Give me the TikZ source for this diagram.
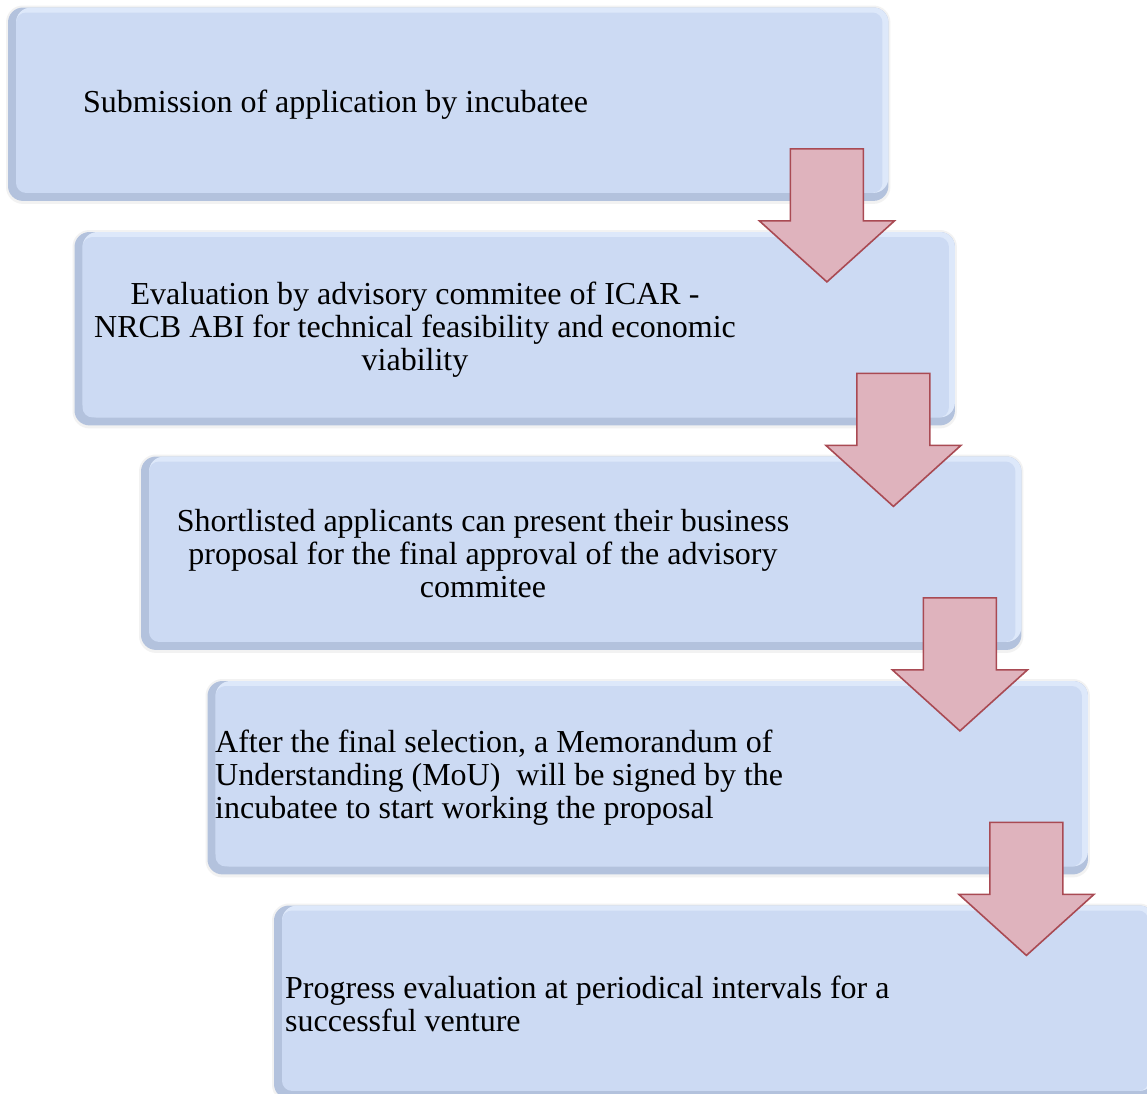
\documentclass[tikz,border=0pt]{standalone}
\usepackage{fontspec}
\setmainfont{Liberation Serif}
\usetikzlibrary{calc}
\definecolor{boxfill}{HTML}{CCDAF3}
\definecolor{boxdark}{HTML}{B3C2DD}
\definecolor{boxlight}{HTML}{DDE8FA}
\definecolor{arrowfill}{HTML}{DFB3BD}
\definecolor{arrowedge}{HTML}{A94A53}
\tikzset{
  stepbox/.style={rectangle, minimum width=880pt, minimum height=193pt, anchor=north west, inner sep=0pt},
  steptext/.style={font=\fontsize{32}{33}\selectfont, inner sep=0pt, text=black},
  downarrow/.style={fill=arrowfill, draw=arrowedge, line width=1.6pt, line join=miter}
}
\begin{document}
\begin{tikzpicture}[x=1pt,y=-1pt]
\useasboundingbox (0,0) rectangle (1147,1093);
\fill[white] (0,0) rectangle (1147,1093);
\node[stepbox] (b1) at (8,7.5) {};
\node[stepbox] (b2) at (74.5,232) {};
\node[stepbox] (b3) at (141,456.5) {};
\node[stepbox] (b4) at (207.5,681) {};
\node[stepbox] (b5) at (274,905.5) {};
\foreach \b in {b1,b2,b3,b4,b5}{
  \fill[black!5, rounded corners=17pt] ([shift={(-2,-2)}]\b.north west) rectangle ([shift={(2,3)}]\b.south east);
  \fill[boxdark, rounded corners=15pt] (\b.north west) rectangle (\b.south east);
  \fill[boxlight, rounded corners=15pt] ([shift={(8,0)}]\b.north west) rectangle ([shift={(0,-8)}]\b.south east);
  \fill[boxfill, rounded corners=10pt] ([shift={(8,5)}]\b.north west) rectangle ([shift={(-6,-8)}]\b.south east);
}
\node[steptext, anchor=west] (t1) at (83,105) {Submission of application by incubatee};
\node[steptext, align=center] (t2) at (415,330) {Evaluation by advisory commitee of ICAR -\\NRCB ABI for technical feasibility and economic\\viability};
\node[steptext, align=center] (t3) at (483,554) {Shortlisted applicants can present their business\\proposal for the final approval of the advisory\\commitee};
\node[steptext, align=left, anchor=west] (t4) at (215,778) {After the final selection, a Memorandum of\\Understanding (MoU)\ \ will be signed by the\\incubatee to start working the proposal};
\node[steptext, align=left, anchor=west] (t5) at (285,1004) {Progress evaluation at periodical intervals for a\\successful venture};
\foreach \a in {b1,b2,b3,b4}{
  \draw[downarrow] ([shift={(-98,-52)}]\a.south east) -- ++(73,0) -- ++(0,72) -- ++(31,0)
    -- ++(-67.5,61) -- ++(-67.5,-61) -- ++(31,0) -- cycle;
}
\end{tikzpicture}
\end{document}
